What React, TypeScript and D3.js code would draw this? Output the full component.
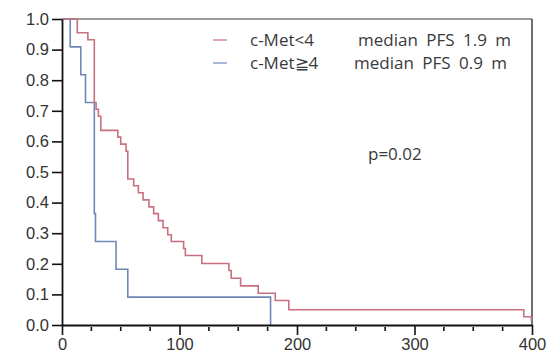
import { useEffect, useRef } from "react";
import * as d3 from "d3";

// Kaplan-Meier steps (time in days, survival fraction after each drop)
const redTimes = [13, 22, 27.5, 29, 31, 33, 47.5, 50, 54.5, 56, 61, 65, 69, 74, 78, 82, 86, 90, 93, 103.5, 105, 119, 142, 144, 152, 167, 181.5, 193, 393, 399.5];
const redSurv = [0.955, 0.932, 0.727, 0.705, 0.682, 0.636, 0.614, 0.591, 0.568, 0.477, 0.455, 0.432, 0.409, 0.386, 0.364, 0.341, 0.318, 0.295, 0.273, 0.25, 0.227, 0.201, 0.178, 0.153, 0.128, 0.104, 0.08, 0.05, 0.027, 0.015];
const redEnd = 400;

const blueTimes = [7, 16, 20, 27.5, 28.5, 46, 56, 177.5];
const blueSurv = [0.909, 0.818, 0.727, 0.364, 0.273, 0.182, 0.091, 0];
const blueEnd = 177.5;

const xTicks = [0, 100, 200, 300, 400];
const xMinorTicks = [25, 50, 75, 125, 150, 175, 225, 250, 275, 325, 350, 375];
const yTicks = [0, 0.1, 0.2, 0.3, 0.4, 0.5, 0.6, 0.7, 0.8, 0.9, 1.0];

const legendGroups = ["c-Met<4", "c-Met\u22674"];
const legendMedians = ["median PFS 1.9 m", "median PFS 0.9 m"];
const pValueText = "p=0.02";

const RED = "#c8707f";
const BLUE = "#6f88b8";
const LEGEND_FONT = "'Open Sans', sans-serif";
const TICK_FONT = "'Liberation Sans', Arial, sans-serif";

type Pt = [number, number];

function stepPoints(times: number[], surv: number[], end: number): Pt[] {
  const pts: Pt[] = [[0, 1]];
  times.forEach((t, i) => pts.push([t, surv[i]]));
  pts.push([end, surv[surv.length - 1]]);
  return pts;
}

export default function App() {
  const svgRef = useRef<SVGSVGElement>(null);

  useEffect(() => {
    if (!svgRef.current) return;
    const svg = d3.select(svgRef.current);
    svg.selectAll("*").remove();

    const x = d3.scaleLinear().domain([0, 400]).range([62, 532]);
    const y = d3.scaleLinear().domain([0, 1]).range([325, 19]);

    svg.append("rect").attr("width", 552).attr("height", 357).attr("fill", "#fff");

    // Frame: top and right borders
    svg
      .append("line")
      .attr("x1", x(0))
      .attr("x2", x(400))
      .attr("y1", y(1))
      .attr("y2", y(1))
      .attr("stroke", "#7a7a7a")
      .attr("stroke-width", 1.6);
    svg
      .append("line")
      .attr("x1", x(400))
      .attr("x2", x(400))
      .attr("y1", y(1))
      .attr("y2", y(0))
      .attr("stroke", "#333")
      .attr("stroke-width", 1.4);

    const line = d3
      .line<Pt>()
      .x((d) => x(d[0]))
      .y((d) => y(d[1]))
      .curve(d3.curveStepAfter);

    svg
      .append("path")
      .datum(stepPoints(blueTimes, blueSurv, blueEnd))
      .attr("fill", "none")
      .attr("stroke", BLUE)
      .attr("stroke-width", 1.6)
      .attr("d", line);

    svg
      .append("path")
      .datum(stepPoints(redTimes, redSurv, redEnd))
      .attr("fill", "none")
      .attr("stroke", RED)
      .attr("stroke-width", 1.6)
      .attr("d", line);

    // X axis
    const xAxis = svg.append("g").attr("transform", `translate(0,${y(0)})`);
    xAxis.call(
      d3.axisBottom(x).tickValues(xTicks).tickSize(10).tickSizeOuter(0).tickFormat(d3.format("d"))
    );
    xAxis.attr("font-size", null).attr("font-family", null);
    xAxis.select(".domain").attr("stroke", "#111").attr("stroke-width", 1.8);
    xAxis.selectAll(".tick line").attr("stroke", "#111").attr("stroke-width", 1.6);
    xAxis
      .selectAll(".tick text")
      .attr("fill", "#333")
      .attr("y", 13)
      .attr("font-family", TICK_FONT)
      .attr("font-size", 16.5);
    svg
      .append("g")
      .attr("transform", `translate(0,${y(0)})`)
      .selectAll("line")
      .data(xMinorTicks)
      .enter()
      .append("line")
      .attr("x1", (d) => x(d))
      .attr("x2", (d) => x(d))
      .attr("y1", 2)
      .attr("y2", 6)
      .attr("stroke", "#111")
      .attr("stroke-width", 1.6);

    // Y axis
    const yAxis = svg.append("g").attr("transform", `translate(${x(0)},0)`);
    yAxis.call(
      d3.axisLeft(y).tickValues(yTicks).tickSize(10).tickSizeOuter(0).tickFormat(d3.format(".1f"))
    );
    yAxis.attr("font-size", null).attr("font-family", null);
    yAxis.select(".domain").attr("stroke", "#111").attr("stroke-width", 1.8);
    yAxis.selectAll(".tick line").attr("stroke", "#111").attr("stroke-width", 1.6);
    yAxis
      .selectAll(".tick text")
      .attr("fill", "#333")
      .attr("x", -13)
      .attr("font-family", TICK_FONT)
      .attr("font-size", 16.5);

    // Legend
    const legend = svg.append("g");
    [RED, BLUE].forEach((c, i) => {
      const ly = 40 + i * 23;
      legend
        .append("line")
        .attr("x1", 213)
        .attr("x2", 227)
        .attr("y1", ly)
        .attr("y2", ly)
        .attr("stroke", c)
        .attr("stroke-width", 1.2);
      legend
        .append("text")
        .attr("x", 250)
        .attr("y", ly + 6)
        .attr("fill", "#3a3a3a")
        .attr("font-family", LEGEND_FONT)
        .attr("font-size", 17)
        .text(legendGroups[i]);
      legend
        .append("text")
        .attr("x", i === 0 ? 358 : 354)
        .attr("y", ly + 6)
        .attr("fill", "#3a3a3a")
        .attr("font-family", LEGEND_FONT)
        .attr("font-size", 17)
        .attr("word-spacing", 4)
        .text(legendMedians[i]);
    });

    svg
      .append("text")
      .attr("x", 368)
      .attr("y", 160)
      .attr("fill", "#3a3a3a")
      .attr("font-family", LEGEND_FONT)
      .attr("font-size", 17)
      .text(pValueText);
  }, []);

  return (
    <svg
      ref={svgRef}
      width={552}
      height={357}
      style={{ position: "absolute", left: 0, top: 0, display: "block" }}
    />
  );
}
